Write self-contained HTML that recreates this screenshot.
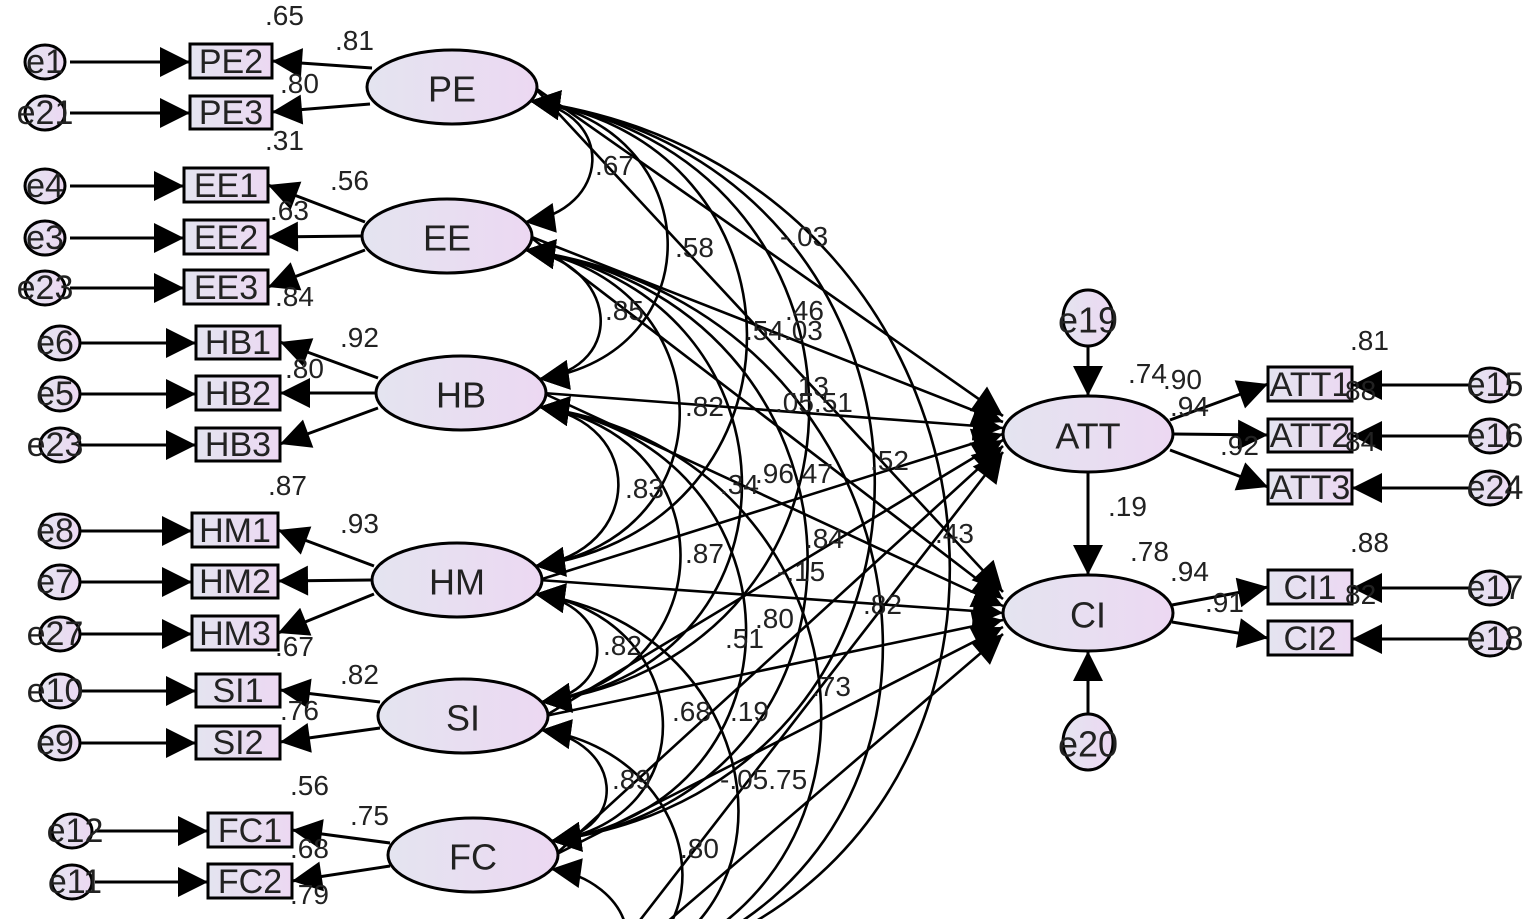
<!DOCTYPE html>
<html><head><meta charset="utf-8"><style>
html,body{margin:0;padding:0;background:#fff;width:1535px;height:919px;overflow:hidden}
svg{display:block}
text{font-family:"Liberation Sans",Arial,sans-serif;fill:#222}
.n{font-size:36px;text-anchor:middle;dominant-baseline:central}
.b{font-size:34px;text-anchor:middle;dominant-baseline:central}
.l{font-size:28px}
</style></head><body>
<svg id="s" width="1535" height="919" viewBox="0 0 1535 919" xmlns="http://www.w3.org/2000/svg">
<defs>
<linearGradient id="g" x1="0" x2="1" y1="0" y2="0"><stop offset="0" stop-color="#e4e4f0"/><stop offset="1" stop-color="#ecd8f2"/></linearGradient>
<marker id="A" viewBox="0 0 10 10" refX="10" refY="5" markerWidth="40" markerHeight="30" markerUnits="userSpaceOnUse" orient="auto-start-reverse"><path d="M0,0L10,5L0,10z" fill="#000"/></marker>
</defs>
<g id="lines" stroke="#000" stroke-width="3" fill="none"></g>
<g id="shapes" stroke="#000" stroke-width="3" fill="url(#g)">
<ellipse cx="452" cy="87" rx="85" ry="37"/>
<ellipse cx="447" cy="236" rx="85" ry="37"/>
<ellipse cx="461" cy="393" rx="85" ry="37"/>
<ellipse cx="457" cy="580" rx="85" ry="37"/>
<ellipse cx="463" cy="716" rx="85" ry="37"/>
<ellipse cx="473" cy="855" rx="85" ry="37"/>
<ellipse cx="1088" cy="434" rx="85" ry="38"/>
<ellipse cx="1088" cy="613" rx="85" ry="38"/>
<ellipse cx="1088" cy="318" rx="25" ry="28"/>
<ellipse cx="1088" cy="742" rx="25" ry="28"/>
<rect x="190" y="44" width="82" height="34"/><rect x="190" y="96" width="82" height="33"/>
<rect x="184" y="168" width="84" height="34"/><rect x="184" y="220" width="84" height="34"/><rect x="184" y="270" width="84" height="34"/>
<rect x="196" y="326" width="84" height="33"/><rect x="196" y="376" width="84" height="34"/><rect x="196" y="428" width="84" height="33"/>
<rect x="192" y="513" width="86" height="34"/><rect x="192" y="565" width="86" height="33"/><rect x="192" y="616" width="86" height="34"/>
<rect x="196" y="674" width="84" height="33"/><rect x="196" y="726" width="84" height="33"/>
<rect x="208" y="813" width="84" height="34"/><rect x="208" y="864" width="84" height="34"/>
<rect x="1268" y="367" width="84" height="34"/><rect x="1268" y="419" width="84" height="33"/><rect x="1268" y="470" width="84" height="34"/>
<rect x="1268" y="570" width="84" height="34"/><rect x="1268" y="621" width="84" height="34"/>
</g>
<g class="n">
<text x="452" y="89">PE</text><text x="447" y="238">EE</text><text x="461" y="395">HB</text><text x="457" y="582">HM</text><text x="463" y="718">SI</text><text x="473" y="857">FC</text><text x="1088" y="436">ATT</text><text x="1088" y="615">CI</text>
<text x="1088" y="320">e19</text><text x="1088" y="744">e20</text>
</g>
<g class="b">
<text x="231" y="62">PE2</text><text x="231" y="113">PE3</text>
<text x="226" y="186">EE1</text><text x="226" y="238">EE2</text><text x="226" y="288">EE3</text>
<text x="238" y="343">HB1</text><text x="238" y="394">HB2</text><text x="238" y="445">HB3</text>
<text x="235" y="531">HM1</text><text x="235" y="582">HM2</text><text x="235" y="634">HM3</text>
<text x="238" y="691">SI1</text><text x="238" y="743">SI2</text>
<text x="250" y="831">FC1</text><text x="250" y="882">FC2</text>
<text x="1310" y="385">ATT1</text><text x="1310" y="436">ATT2</text><text x="1310" y="488">ATT3</text>
<text x="1310" y="588">CI1</text><text x="1310" y="639">CI2</text>
<text x="45" y="62">e1</text><text x="45" y="113">e21</text><text x="45" y="186">e4</text><text x="45" y="238">e3</text><text x="45" y="288">e23</text>
<text x="55" y="343">e6</text><text x="55" y="394">e5</text><text x="55" y="445">e23</text>
<text x="55" y="531">e8</text><text x="55" y="582">e7</text><text x="55" y="634">e27</text>
<text x="55" y="691">e10</text><text x="55" y="743">e9</text>
<text x="75" y="831">e12</text><text x="75" y="882">e11</text>
<text x="1495" y="385">e15</text><text x="1495" y="436">e16</text><text x="1495" y="488">e24</text><text x="1495" y="588">e17</text><text x="1495" y="639">e18</text>
</g>
<g class="l">
<text x="265" y="25">.65</text><text x="335" y="50">.81</text><text x="280" y="93">.80</text><text x="265" y="150">.31</text>
<text x="330" y="190">.56</text><text x="270" y="220">.63</text><text x="275" y="306">.84</text>
<text x="340" y="347">.92</text><text x="285" y="378">.80</text>
<text x="268" y="495">.87</text><text x="340" y="533">.93</text><text x="275" y="656">.67</text>
<text x="340" y="684">.82</text><text x="280" y="720">.76</text>
<text x="290" y="795">.56</text><text x="350" y="825">.75</text><text x="290" y="904">.79</text><text x="290" y="858">.68</text>
<text x="595" y="175">.67</text><text x="675" y="257">.58</text><text x="780" y="246">-.03</text>
<text x="605" y="320">.85</text><text x="785" y="320">.46</text><text x="745" y="340">.54.03</text>
<text x="685" y="416">.82</text><text x="790" y="396">.13</text><text x="775" y="412">.05.51</text>
<text x="625" y="498">.83</text><text x="720" y="494">.34</text><text x="755" y="483">.96.47</text><text x="870" y="470">.52</text>
<text x="685" y="563">.87</text><text x="805" y="548">.84</text><text x="935" y="543">.43</text>
<text x="777" y="581">-.15</text><text x="863" y="614">.82</text><text x="755" y="628">.80</text><text x="725" y="648">.51</text><text x="603" y="655">.82</text>
<text x="672" y="721">.68</text><text x="730" y="721">.19</text><text x="812" y="696">.73</text>
<text x="612" y="789">.89</text><text x="720" y="789">-.05.75</text><text x="680" y="858">.80</text>
<text x="1128" y="383">.74</text><text x="1163" y="389">.90</text><text x="1170" y="416">.94</text><text x="1220" y="455">.92</text>
<text x="1108" y="516">.19</text><text x="1130" y="561">.78</text><text x="1170" y="581">.94</text><text x="1205" y="612">.91</text>
<text x="1350" y="350">.81</text><text x="1350" y="552">.88</text><text x="1345" y="400">88</text><text x="1345" y="451">84</text><text x="1345" y="604">82</text>
</g>
</svg>
<script>
var g=document.getElementById('lines'),NS='http://www.w3.org/2000/svg';
function P(d,m1,m2,w){var p=document.createElementNS(NS,'path');p.setAttribute('d',d);if(m1)p.setAttribute('marker-start','url(#'+m1+')');if(m2)p.setAttribute('marker-end','url(#'+m2+')');if(w)p.setAttribute('stroke-width',w);g.appendChild(p);}
var L=[[452,87],[447,236],[461,393],[457,580],[463,716],[473,855],[500,995]];
for(var i=0;i<L.length;i++)for(var j=i+1;j<L.length;j++){
 var a=L[i],b=L[j],dy=b[1]-a[1];
 var x1=a[0]+78,y1=a[1]+14,x2=b[0]+78,y2=b[1]-14;
 var k=0.58*dy;
 P('M'+x1+','+y1+' C'+(x1+k)+','+(y1+dy*0.08)+' '+(x2+k)+','+(y2-dy*0.08)+' '+x2+','+y2,'A','A',2.6);
}
for(var i=0;i<L.length;i++){var a=L[i];
 P('M'+(a[0]+82)+','+a[1]+' L1003,'+(434+(i-3)*6),null,'A',2.6);
 P('M'+(a[0]+82)+','+a[1]+' L1003,'+(613+(i-3)*7),null,'A',2.6);}
P('M1088,472 L1088,575',null,'A');P('M1088,346 L1088,396',null,'A');P('M1088,714 L1088,651',null,'A');
P('M1170,420 L1268,384',null,'A');P('M1173,434 L1268,435',null,'A');P('M1170,450 L1268,487',null,'A');
P('M1172,605 L1268,587',null,'A');P('M1172,622 L1268,638',null,'A');
[385,436,488,588,639].forEach(function(y){P('M1470,'+y+' L1352,'+y,null,'A');});
function ld(x1,y1,x2,y2){P('M'+x1+','+y1+' L'+x2+','+y2,null,'A');}
ld(372,68,272,61);ld(370,104,272,112);
ld(365,222,268,185);ld(362,236,268,237);ld(365,250,268,287);
ld(378,378,280,342);ld(376,393,280,393);ld(378,408,280,444);
ld(374,566,278,530);ld(372,580,278,581);ld(374,594,278,633);
ld(380,702,280,690);ld(380,728,280,742);
ld(390,843,292,830);ld(390,866,292,881);
[[62,190],[113,190],[186,184],[238,184],[288,184],[343,196],[394,196],[445,196],[531,192],[582,192],[634,192],[691,196],[743,196],[831,208],[882,208]].forEach(function(r){
 var x0=r[0]>800?95:(r[0]>300?75:70);P('M'+x0+','+r[0]+' L'+r[1]+','+r[0],null,'A');});
[[45,62],[45,113],[45,186],[45,238],[45,288],[60,343],[60,394],[60,445],[60,531],[60,582],[60,634],[60,691],[60,743],[72,831],[72,882],[1490,385],[1490,436],[1490,488],[1490,588],[1490,639]].forEach(function(c){
 var e=document.createElementNS(NS,'ellipse');e.setAttribute('cx',c[0]);e.setAttribute('cy',c[1]);e.setAttribute('rx',20);e.setAttribute('ry',17);e.setAttribute('fill','url(#g)');document.getElementById('shapes').appendChild(e);});
</script>
</body></html>
